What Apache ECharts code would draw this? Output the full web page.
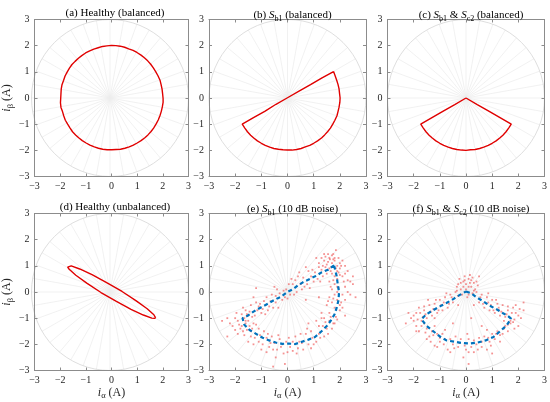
<!DOCTYPE html>
<html>
<head>
<meta charset="utf-8">
<script src="https://cdn.jsdelivr.net/npm/echarts@6/dist/echarts.min.js"></script>
<style>
  html, body { margin: 0; padding: 0; background: #fff; }
  #main { width: 550px; height: 402px; }
</style>
</head>
<body>
<div id="main"></div>
<script>
// (a) healthy, balanced supply: i_alpha / i_beta trajectory
const healthyBal = [
  [2.01,-0.02],[1.99,0.17],[1.97,0.34],[1.93,0.52],[1.89,0.68],[1.81,0.85],[1.72,1.01],[1.63,1.15],
  [1.52,1.30],[1.41,1.42],[1.28,1.54],[1.15,1.64],[0.99,1.74],[0.84,1.82],[0.67,1.88],[0.51,1.94],
  [0.34,1.98],[0.17,2.00],[0.00,2.01],[-0.18,1.99],[-0.35,1.97],[-0.52,1.92],[-0.69,1.87],[-0.85,1.80],
  [-1.01,1.72],[-1.16,1.62],[-1.29,1.52],[-1.42,1.40],[-1.54,1.28],[-1.64,1.14],[-1.73,0.99],
  [-1.81,0.84],[-1.87,0.67],[-1.93,0.51],[-1.96,0.34],[-1.97,0.17],[-1.98,-0.01],[-1.99,-0.18],
  [-1.97,-0.36],[-1.91,-0.52],[-1.86,-0.69],[-1.80,-0.85],[-1.71,-1.00],[-1.62,-1.14],[-1.52,-1.29],
  [-1.40,-1.41],[-1.28,-1.52],[-1.14,-1.63],[-0.99,-1.72],[-0.84,-1.80],[-0.67,-1.87],[-0.51,-1.92],
  [-0.34,-1.96],[-0.17,-1.98],[0.01,-1.98],[0.18,-1.97],[0.35,-1.96],[0.52,-1.92],[0.69,-1.87],
  [0.85,-1.80],[1.00,-1.72],[1.15,-1.63],[1.30,-1.52],[1.42,-1.41],[1.54,-1.28],[1.64,-1.15],
  [1.74,-0.99],[1.82,-0.84],[1.89,-0.67],[1.94,-0.51],[1.98,-0.34],[2.01,-0.17],[2.01,-0.02]
];
// (b) S_b1 fault, balanced
const sb1Bal = [
  [1.76,1.01],[1.32,0.77],[0.88,0.51],[0.44,0.26],[0.00,0.01],[-0.44,-0.24],[-0.87,-0.51],[-1.30,-0.75],
  [-1.73,-1.00],[-1.63,-1.15],[-1.53,-1.29],[-1.41,-1.42],[-1.29,-1.53],[-1.15,-1.64],[-1.00,-1.73],
  [-0.85,-1.81],[-0.68,-1.88],[-0.52,-1.93],[-0.35,-1.96],[-0.17,-1.98],[0.00,-1.99],[0.17,-1.99],
  [0.35,-1.97],[0.52,-1.93],[0.68,-1.87],[0.85,-1.81],[1.00,-1.73],[1.15,-1.64],[1.30,-1.53],
  [1.42,-1.41],[1.53,-1.29],[1.64,-1.15],[1.73,-1.00],[1.81,-0.85],[1.89,-0.68],[1.93,-0.52],
  [1.97,-0.35],[2.00,-0.17],[2.01,0.00],[1.99,0.17],[1.97,0.35],[1.93,0.52],[1.88,0.68],[1.82,0.85],
  [1.76,1.01]
];
// (c) S_b1 & S_c2 faults, balanced
const sb1sc2Bal = [
  [0.00,0.00],[-0.43,-0.25],[-0.87,-0.50],[-1.30,-0.75],[-1.73,-1.00],[-1.63,-1.15],[-1.53,-1.29],
  [-1.41,-1.42],[-1.29,-1.53],[-1.15,-1.64],[-1.00,-1.73],[-0.85,-1.81],[-0.68,-1.88],[-0.52,-1.93],
  [-0.35,-1.97],[-0.17,-1.99],[0.00,-2.00],[0.17,-1.98],[0.35,-1.97],[0.52,-1.93],[0.68,-1.88],
  [0.85,-1.81],[1.00,-1.73],[1.15,-1.64],[1.29,-1.53],[1.41,-1.42],[1.53,-1.29],[1.63,-1.15],
  [1.73,-1.00],[1.30,-0.75],[0.87,-0.50],[0.43,-0.25],[0.00,0.00]
];
// (d) healthy, unbalanced supply
const healthyUnbal = [
  [1.72,-0.99],[1.71,-0.94],[1.65,-0.87],[1.39,-0.64],[0.95,-0.33],[0.41,0.02],[-0.19,0.36],
  [-0.76,0.66],[-1.24,0.88],[-1.57,1.00],[-1.71,0.95],[-1.72,0.99],[-1.67,1.01],[-1.65,0.87],
  [-1.39,0.64],[-0.95,0.33],[-0.41,-0.02],[0.19,-0.36],[0.76,-0.66],[1.24,-0.88],[1.57,-1.00],
  [1.67,-1.01],[1.72,-0.99]
];
// (e) S_b1 with 10 dB noise: measured samples and estimated trajectory
const sb1NoisyPts = [
  [-1.6,-0.7],[-1.5,-1.1],[-1.7,-0.6],[-1.4,-0.5],[-1.55,-0.85],[-1.2,-0.4],[-1.25,-0.9],[-1.1,-0.55],
  [-1.3,-0.2],[-1.0,-0.8],[-0.8,-0.2],[-0.75,-0.7],[-0.9,-0.35],[-0.6,-0.1],[-0.7,-0.55],[-0.4,0.1],
  [-0.45,-0.4],[-0.3,-0.05],[-0.5,0.2],[-0.35,-0.6],[0.05,0.3],[-0.1,-0.2],[0.1,-0.1],[0.15,0.5],
  [-0.05,0.1],[0.4,0.6],[0.35,0.0],[0.5,0.3],[0.45,0.75],[0.3,0.45],[0.8,0.8],[0.75,0.3],[0.9,0.6],
  [0.7,0.95],[0.85,0.15],[1.2,1.1],[1.15,0.5],[1.3,0.85],[1.1,1.3],[1.25,0.4],[1.6,1.3],[1.5,0.7],
  [1.7,1.1],[1.55,1.45],[1.65,0.8],[1.8,1.3],[1.4,1.2],[1.9,1.0],[1.35,1.0],[1.45,1.35],[1.75,1.45],
  [-1.9,-1.1],[-2.1,-1.3],[-1.5,-0.9],[-1.8,-1.4],[-2.3,-1.0],[-1.6,-1.2],[-1.95,-0.8],[-2.5,-1.1],
  [-1.7,-1.5],[-1.3,-1.2],[-1.6,-1.1],[-1.9,-1.6],[-1.4,-1.5],[-1.75,-1.3],[-2.0,-1.45],[-1.45,-1.3],
  [-1.4,-1.7],[-1.1,-1.4],[-1.5,-1.9],[-1.2,-1.25],[-1.3,-2.0],[-1.1,-1.9],[-0.9,-1.5],[-1.0,-2.2],
  [-0.8,-1.75],[-1.2,-1.6],[-0.7,-2.1],[-0.6,-1.7],[-0.8,-2.3],[-0.5,-1.95],[-0.75,-1.6],[-0.4,-2.2],
  [-0.3,-1.8],[-0.45,-2.5],[-0.25,-2.1],[-0.35,-1.65],[0.0,-2.3],[0.05,-1.75],[-0.1,-2.75],[0.1,-2.1],
  [-0.05,-1.9],[0.4,-2.15],[0.3,-1.7],[0.45,-1.9],[0.35,-2.35],[0.7,-1.6],[0.8,-2.0],[0.6,-2.2],
  [0.75,-1.4],[1.1,-1.9],[0.9,-1.5],[1.2,-1.6],[1.0,-2.0],[0.8,-1.2],[1.4,-1.7],[1.2,-1.3],[1.5,-1.4],
  [1.3,-1.0],[1.1,-1.1],[1.7,-1.4],[1.4,-1.0],[1.6,-1.1],[1.8,-1.2],[1.3,-0.8],[1.9,-1.05],[1.6,-0.8],
  [2.0,-0.7],[1.5,-0.5],[1.75,-1.2],[2.1,-0.6],[1.7,-0.4],[2.2,-0.9],[1.6,-0.2],[1.9,-0.3],[2.2,-0.3],
  [1.8,-0.1],[2.3,0.0],[1.7,0.1],[2.0,-0.5],[2.2,0.2],[1.8,0.3],[2.4,0.4],[1.9,0.0],[2.6,-0.2],
  [1.6,0.4],[2.1,0.6],[1.8,0.6],[2.3,0.8],[1.9,0.2],[2.5,0.3],[2.0,0.9],[1.7,0.7],[2.1,1.2],[1.9,0.5],
  [2.2,1.0],[1.8,1.2],[1.9,0.8],[1.7,1.4],[2.0,1.1],[1.6,0.9],[1.85,1.6],[1.2,-0.2],[0.7,-0.3],
  [-1.2,0.15],[-2.3,-1.7],[-0.55,-2.85],[2.5,0.6],
  [-1.45,-0.75],[-1.35,-0.95],[-1.15,-0.7],[-1.05,-0.45],[-0.95,-0.65],[-0.85,-0.85],[-0.65,-0.35],
  [-0.55,-0.6],[-0.45,-0.15],[-0.2,-0.3],[-0.15,0.05],[0.0,-0.25],[0.2,0.3],[0.25,-0.1],[0.55,0.1],
  [0.6,0.55],[0.65,0.2],[0.95,0.85],[1.0,0.4],[1.05,0.75],[1.2,0.95],[1.35,0.6],[1.45,0.95],
  [1.55,1.15],[1.62,1.25],[1.68,0.95],[1.5,1.05],[1.3,1.3],[1.75,1.25],[1.95,1.3],[1.85,0.9],
  [1.4,1.45],[-1.85,-1.25],[-2.0,-1.0],[-1.65,-1.0],[-1.75,-0.85],[-2.2,-1.2],[-1.55,-1.45],
  [-1.65,-1.65],[-1.25,-1.75],[-1.35,-1.4],[-1.05,-1.65],[-0.95,-2.0],[-0.65,-1.95],[-0.55,-2.2],
  [-0.2,-2.0],[-0.15,-2.35],[0.2,-1.9],[0.2,-2.25],[0.55,-1.95],[0.5,-1.6],[0.95,-1.75],[0.9,-2.15],
  [1.25,-1.75],[1.35,-1.3],[1.55,-1.6],[1.45,-1.15],[1.65,-0.95],[1.85,-0.95],[1.8,-0.6],[2.05,-0.4],
  [1.75,-0.25],[2.1,-0.1],[1.95,0.15],[2.15,0.4],[1.75,0.45],[2.0,0.65],[2.2,0.7],[1.95,0.75],
  [2.05,1.0],[2.3,0.45],[2.4,-0.1],[1.65,0.2],[1.55,-0.35]
];
const sb1Est = [
  [1.78,1.02],[1.55,0.85],[1.30,0.75],[1.10,0.62],[0.85,0.50],[0.60,0.38],[0.40,0.25],[0.20,0.10],
  [0.00,0.00],[-0.25,-0.18],[-0.50,-0.30],[-0.75,-0.45],[-1.00,-0.58],[-1.30,-0.75],[-1.55,-0.92],
  [-1.72,-1.00],[-1.65,-1.25],[-1.45,-1.45],[-1.20,-1.60],[-0.95,-1.75],[-0.70,-1.85],[-0.45,-1.93],
  [-0.20,-1.98],[0.05,-1.97],[0.30,-1.99],[0.55,-1.90],[0.80,-1.82],[1.05,-1.72],[1.30,-1.50],
  [1.50,-1.30],[1.65,-1.10],[1.80,-0.85],[1.88,-0.60],[1.95,-0.30],[1.97,0.00],[1.92,0.30],
  [1.88,0.60],[1.82,0.85],[1.78,1.02]
];
// (f) S_b1 & S_c2 with 10 dB noise
const sb1sc2NoisyPts = [
  [0.0,0.3],[0.1,0.5],[-0.1,0.4],[0.2,0.2],[-0.2,0.1],[0.05,-0.2],[0.3,0.35],[-0.3,0.3],[0.15,0.65],
  [-0.15,-0.1],[0.25,-0.05],[0.0,0.1],[-0.05,0.45],[0.35,0.1],[0.1,0.2],[-0.25,0.5],[0.5,0.6],
  [-0.4,0.0],[-0.5,-0.4],[-0.3,-0.5],[-0.6,-0.1],[-0.35,0.2],[-0.8,-0.2],[-0.9,-0.7],[-0.7,-0.6],
  [-1.0,-0.3],[-0.75,-0.05],[-1.2,-0.45],[-1.3,-0.9],[-1.1,-0.8],[-1.4,-0.5],[-1.15,-0.3],[-1.6,-0.7],
  [-1.7,-1.1],[-1.5,-1.0],[-1.9,-0.8],[-2.1,-1.0],[-1.8,-0.6],[-2.2,-0.8],[-1.45,-0.3],
  [0.4,0.0],[0.5,-0.4],[0.3,-0.5],[0.6,-0.1],[0.45,0.25],[0.8,-0.2],[0.9,-0.7],[0.7,-0.6],[1.0,-0.3],
  [0.85,-0.05],[1.2,-0.45],[1.3,-0.9],[1.1,-0.8],[1.4,-0.5],[1.15,-0.3],[1.25,-0.6],[1.6,-0.7],
  [1.7,-1.1],[1.5,-0.95],[1.9,-0.8],[2.1,-1.0],[1.8,-0.6],[2.2,-0.7],[2.0,-1.3],[1.9,-0.5],[2.2,-0.4],
  [-1.9,-1.3],[-1.6,-1.2],[-2.0,-1.1],[-1.5,-1.4],[-1.8,-1.5],[-1.4,-1.7],[-1.2,-1.3],[-1.5,-1.8],
  [-1.3,-1.5],[-1.1,-1.6],[-1.0,-1.9],[-0.9,-1.6],[-1.1,-2.1],[-0.8,-1.8],[-0.7,-2.2],[-0.5,-2.0],
  [-0.4,-1.7],[-0.6,-2.3],[-0.3,-2.1],[-0.2,-1.8],[0.0,-2.2],[0.1,-1.8],[-0.1,-2.5],[0.2,-2.1],
  [0.05,-1.6],[0.4,-2.0],[0.5,-1.75],[0.3,-2.3],[0.6,-2.1],[0.7,-1.7],[0.9,-1.9],[1.0,-1.6],[0.8,-2.2],
  [1.1,-1.8],[1.2,-1.5],[1.4,-1.6],[1.5,-1.3],[1.3,-1.9],[1.6,-1.5],[1.7,-1.2],[0.2,-1.0],[-0.5,-1.2],
  [0.6,-1.3],[-2.3,-1.2],[-1.2,-2.05],[1.0,-2.35],[0.1,-2.75],[1.85,-1.4],
  [0.05,0.0],[-0.1,0.2],[0.2,0.45],[-0.2,0.35],[0.3,0.05],[-0.35,0.05],[0.1,-0.1],[0.4,0.4],
  [-0.05,0.6],[0.25,0.55],[0.15,0.35],[-0.3,-0.15],[-0.55,-0.2],[-0.65,-0.45],[-0.85,-0.4],
  [-0.95,-0.5],[-1.05,-0.7],[-1.25,-0.65],[-1.35,-0.75],[-1.55,-0.85],[-1.65,-0.95],[-1.75,-0.8],
  [-2.0,-0.9],[-1.85,-1.05],[-1.6,-0.55],[-1.2,-1.0],[0.55,-0.2],[0.65,-0.45],[0.85,-0.4],[0.95,-0.5],
  [1.05,-0.7],[1.25,-0.7],[1.35,-0.75],[1.55,-0.85],[1.65,-0.95],[1.75,-0.8],[2.0,-0.9],[1.85,-1.05],
  [1.6,-0.55],[1.45,-1.1],[2.05,-0.65],[-1.7,-1.3],[-1.55,-1.55],[-1.25,-1.65],[-1.35,-1.9],
  [-1.0,-1.75],[-0.85,-2.0],[-0.6,-1.8],[-0.45,-2.15],[-0.25,-1.95],[-0.05,-2.05],[0.1,-2.3],
  [0.3,-1.85],[0.45,-2.2],[0.6,-1.9],[0.85,-1.75],[0.95,-2.05],[1.15,-1.6],[1.3,-1.65],[1.45,-1.4],
  [1.6,-1.25],[1.8,-1.15],[-1.9,-1.5],[0.8,-1.45],[-0.8,-1.45]
];
const sb1sc2Est = [
  [0.00,0.02],[0.20,-0.05],[0.40,-0.20],[0.65,-0.35],[0.90,-0.52],[1.15,-0.65],[1.40,-0.80],
  [1.62,-0.93],[1.72,-1.02],[1.55,-1.28],[1.30,-1.50],[1.05,-1.72],[0.75,-1.85],[0.45,-1.93],
  [0.15,-1.97],[-0.15,-1.95],[-0.45,-1.90],[-0.75,-1.85],[-1.00,-1.70],[-1.25,-1.50],[-1.50,-1.30],
  [-1.70,-1.05],[-1.55,-0.88],[-1.30,-0.72],[-1.00,-0.55],[-0.75,-0.42],[-0.50,-0.28],[-0.25,-0.12],
  [0.00,0.02]
];

const titles = [
  '(a) Healthy (balanced)',
  '(b) {i|S}{sub|b1} (balanced)',
  '(c) {i|S}{sub|b1} & {i|S}{sub|c2} (balanced)',
  '(d) Healthy (unbalanced)',
  '(e) {i|S}{sub|b1} (10 dB noise)',
  '(f) {i|S}{sub|b1} & {i|S}{sub|c2} (10 dB noise)'
];

const font = '"Liberation Serif", "Times New Roman", serif';
const rich = {
  i: { fontFamily: font, fontSize: 11, fontStyle: 'italic', color: '#000' },
  sub: { fontFamily: font, fontSize: 8, color: '#000', verticalAlign: 'bottom', padding: [7, 0, 0, 0] }
};
const nameRich = {
  i: { fontFamily: font, fontSize: 12, fontStyle: 'italic', color: '#262626' },
  sub: { fontFamily: font, fontSize: 8.5, color: '#262626', verticalAlign: 'bottom', padding: [7, 0, 0, 0] }
};

const lefts = [31.5, 209, 387.5];
const tops = [19.5, 213.5];
const W = 157;

const grid = [], xAxis = [], yAxis = [], polar = [], angleAxis = [], radiusAxis = [], title = [];
const minus = v => (v < 0 ? '\u2212' + (-v) : String(v));

for (let k = 0; k < 6; k++) {
  const left = lefts[k % 3], top = tops[Math.floor(k / 3)];
  grid.push({ left: left, top: top, width: W, height: W });
  // polar grid drawn under each cartesian panel (circle r = 3, spokes every 10 deg)
  polar.push({ center: [left + W / 2, top + W / 2], radius: W / 2 });
  angleAxis.push({
    polarIndex: k, type: 'value', min: 0, max: 360, interval: 10, startAngle: 90,
    axisLine: { show: true, lineStyle: { color: '#d6d6d6', width: 0.8 } },
    axisTick: { show: false }, axisLabel: { show: false },
    splitLine: { show: true, lineStyle: { color: '#eeeeee', width: 0.8 } }
  });
  radiusAxis.push({
    polarIndex: k, type: 'value', min: 0, max: 3,
    axisLine: { show: false }, axisTick: { show: false }, axisLabel: { show: false },
    splitLine: { show: false }
  });
  title.push({
    text: titles[k],
    left: left + W / 2, top: top - 17, textAlign: 'center',
    textStyle: { fontFamily: font, fontSize: 11, fontWeight: 'normal', color: '#000', rich: rich }
  });

  const common = {
    gridIndex: k, type: 'value', min: -3, max: 3, interval: 1,
    axisLine: { onZero: false, lineStyle: { color: '#8c8c8c', width: 1 } },
    axisTick: { inside: true, length: 3, lineStyle: { color: '#8c8c8c' } },
    splitLine: { show: false }
  };
  const lbl = { fontFamily: font, fontSize: 10, color: '#262626', margin: 5, formatter: minus };
  const bottomRow = k >= 3, leftCol = k % 3 === 0;
  xAxis.push(Object.assign({}, common, {
    position: 'bottom', axisLabel: lbl,
    name: bottomRow ? '{i|i}{sub|\u03b1} (A)' : '',
    nameLocation: 'middle', nameGap: 13,
    nameTextStyle: { fontFamily: font, fontSize: 12, color: '#262626', rich: nameRich }
  }));
  xAxis.push(Object.assign({}, common, { position: 'top', axisLabel: { show: false } }));
  yAxis.push(Object.assign({}, common, {
    position: 'left', axisLabel: lbl,
    name: leftCol ? '{i|i}{sub|\u03b2} (A)' : '',
    nameLocation: 'middle', nameGap: 11, nameRotate: 90,
    nameTextStyle: { fontFamily: font, fontSize: 12, color: '#262626', rich: nameRich }
  }));
  yAxis.push(Object.assign({}, common, { position: 'right', axisLabel: { show: false } }));
}

function curve(k, data) {
  return {
    type: 'line', xAxisIndex: 2 * k, yAxisIndex: 2 * k, data: data,
    showSymbol: false, symbol: 'none', smooth: false, z: 5,
    lineStyle: { color: '#e00000', width: 1.4 }
  };
}
function noise(k, data) {
  return {
    type: 'scatter', xAxisIndex: 2 * k, yAxisIndex: 2 * k, data: data,
    symbol: 'rect', symbolSize: 1.8, z: 4,
    itemStyle: { color: 'rgba(238,60,60,0.7)' }
  };
}
function estimate(k, data) {
  return {
    type: 'line', xAxisIndex: 2 * k, yAxisIndex: 2 * k, data: data,
    showSymbol: false, symbol: 'none', smooth: false, z: 6,
    lineStyle: { color: '#0072bd', width: 2.2, type: [4, 3] }
  };
}

const option = {
  backgroundColor: '#fff',
  animation: false,
  title: title,
  grid: grid,
  xAxis: xAxis,
  yAxis: yAxis,
  polar: polar,
  angleAxis: angleAxis,
  radiusAxis: radiusAxis,
  series: [
    curve(0, healthyBal),
    curve(1, sb1Bal),
    curve(2, sb1sc2Bal),
    curve(3, healthyUnbal),
    noise(4, sb1NoisyPts),
    estimate(4, sb1Est),
    noise(5, sb1sc2NoisyPts),
    estimate(5, sb1sc2Est)
  ]
};

echarts.init(document.getElementById('main')).setOption(option);
</script>
</body>
</html>
